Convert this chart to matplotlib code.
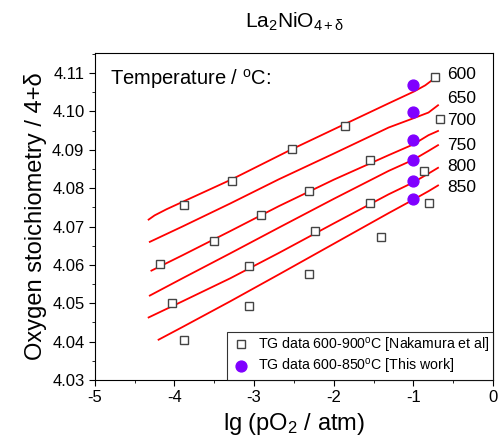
import numpy as np
import matplotlib
matplotlib.use("Agg")
import matplotlib.pyplot as plt
from matplotlib.ticker import MultipleLocator, FormatStrFormatter

plt.rcParams['font.family'] = ['Liberation Sans', 'DejaVu Sans']
plt.rcParams['mathtext.fontset'] = 'custom'
plt.rcParams['mathtext.rm'] = 'Liberation Sans'
plt.rcParams['mathtext.it'] = 'Liberation Sans:italic'
plt.rcParams['axes.unicode_minus'] = False

# TG data Nakamura et al (open squares)
sq_x = [-0.73, -1.86, -2.53, -3.28, -3.88,
        -0.66, -1.55, -2.31, -2.91, -3.51, -4.18,
        -0.87, -1.55, -2.23, -3.06, -4.03,
        -0.80, -1.40, -2.31, -3.06, -3.88]
sq_y = [4.109, 4.0961, 4.0903, 4.0818, 4.0755,
        4.098, 4.0873, 4.0792, 4.0731, 4.0663, 4.0601,
        4.0845, 4.076, 4.0688, 4.0596, 4.050,
        4.076, 4.0673, 4.0577, 4.0492, 4.0405]

# TG data this work (filled circles)
circ_x = [-1.0, -1.0, -1.0, -1.0, -1.0, -1.0]
circ_y = [4.107, 4.0999, 4.0926, 4.0873, 4.0818, 4.0771]

# model lines per temperature
temps = ["600", "650", "700", "750", "800", "850"]
line_x = {
    "600": [-4.325, -4.25, -4.1, -3.88, -3.28, -2.53, -1.86, -1.31, -0.99, -0.85, -0.69],
    "650": [-4.31, -3.9, -3.3, -2.69, -2.0, -1.31, -1.0, -0.81, -0.69],
    "700": [-4.29, -3.9, -3.3, -2.69, -2.0, -1.31, -1.0, -0.81, -0.69],
    "750": [-4.31, -3.9, -3.3, -2.69, -2.0, -1.31, -1.0, -0.81, -0.69],
    "800": [-4.325, -3.9, -3.3, -2.69, -2.0, -1.31, -1.0, -0.81, -0.69],
    "850": [-4.2, -3.9, -3.3, -2.69, -2.0, -1.31, -1.0, -0.81, -0.69],
}
line_y = {
    "600": [4.0718, 4.0729, 4.0745, 4.0766, 4.0823, 4.0901, 4.0967, 4.1021, 4.1052, 4.1068, 4.1093],
    "650": [4.0660, 4.0700, 4.0760, 4.0823, 4.0890, 4.0958, 4.0982, 4.0997, 4.1016],
    "700": [4.0585, 4.0625, 4.0688, 4.0753, 4.0822, 4.0886, 4.0914, 4.0938, 4.0949],
    "750": [4.0520, 4.0565, 4.0630, 4.0697, 4.0772, 4.0845, 4.0874, 4.0897, 4.0912],
    "800": [4.0463, 4.0505, 4.0565, 4.0631, 4.0708, 4.0784, 4.0815, 4.0838, 4.0853],
    "850": [4.0405, 4.0438, 4.0505, 4.0575, 4.0655, 4.0735, 4.0770, 4.0792, 4.0807],
}
label_y = [4.1097, 4.1034, 4.0975, 4.0912, 4.0856, 4.0801]

fig = plt.figure(figsize=(5.02, 4.46), dpi=100)
ax = fig.add_axes([0.189, 0.148, 0.793, 0.733])

for t in temps:
    ax.plot(line_x[t], line_y[t], color='red', lw=1.3, zorder=2)

ax.plot(sq_x, sq_y, 's', ms=5.8, mfc='white', mec='#444444', mew=1.0,
        linestyle='none', zorder=3, label='TG data 600-900$^{\\rm o}$C [Nakamura et al]')
ax.plot(circ_x, circ_y, 'o', ms=7.8, color='#7f00ff', linestyle='none',
        zorder=4, label='TG data 600-850$^{\\rm o}$C [This work]')

for t, yy in zip(temps, label_y):
    ax.text(-0.575, yy, t, fontsize=12.5, va='center', ha='left')

ax.text(-4.81, 4.1085, 'Temperature / $^{\\rm o}$C:', fontsize=14.5, va='center', ha='left')

ax.set_xlim(-5, 0)
ax.set_ylim(4.03, 4.1152)
ax.xaxis.set_major_locator(MultipleLocator(1))
ax.xaxis.set_minor_locator(MultipleLocator(0.5))
ax.yaxis.set_major_locator(MultipleLocator(0.01))
ax.yaxis.set_minor_locator(MultipleLocator(0.005))
ax.yaxis.set_major_formatter(FormatStrFormatter('%.2f'))
ax.xaxis.set_major_formatter(FormatStrFormatter('%d'))
ax.tick_params(which='major', direction='out', length=4, labelsize=12)
ax.tick_params(which='minor', direction='out', length=2.5)

ax.set_xlabel('lg (pO$_{\\rm 2}$ / atm)', fontsize=17, labelpad=4)
ax.set_ylabel('Oxygen stoichiometry / 4+\u03b4', fontsize=17, labelpad=4)
fig.text(0.586, 0.95, 'La$_{\\rm 2}$NiO$_{\\rm 4+\u03b4}$', fontsize=15, ha='center', va='center')

leg = ax.legend(loc='lower right', borderaxespad=0, fancybox=False,
                edgecolor='black', fontsize=10.2, handletextpad=0.4,
                borderpad=0.25, labelspacing=0.2, handlelength=1.5)
leg.get_frame().set_linewidth(0.8)

fig.savefig('out.png', dpi=100)
